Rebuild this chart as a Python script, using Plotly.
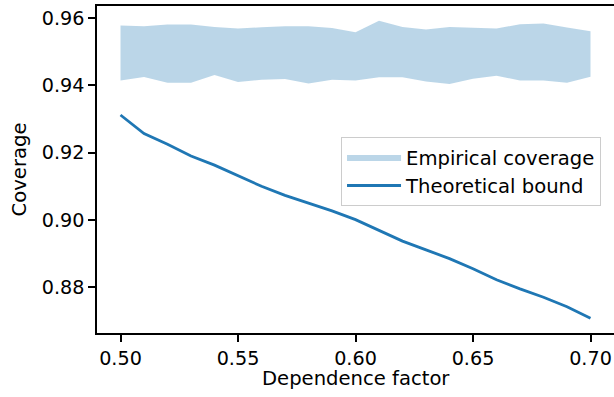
import plotly.graph_objects as go

dependence = [0.50, 0.51, 0.52, 0.53, 0.54, 0.55, 0.56, 0.57, 0.58, 0.59, 0.60,
              0.61, 0.62, 0.63, 0.64, 0.65, 0.66, 0.67, 0.68, 0.69, 0.70]
coverage_upper = [0.9578, 0.9576, 0.9581, 0.9581, 0.9574, 0.9569, 0.9573, 0.9576,
                  0.9576, 0.9571, 0.9558, 0.9592, 0.9574, 0.9566, 0.9574, 0.9571,
                  0.9569, 0.9582, 0.9584, 0.9572, 0.9561]
coverage_lower = [0.9415, 0.9425, 0.9408, 0.9408, 0.9431, 0.9410, 0.9417, 0.9419,
                  0.9406, 0.9417, 0.9415, 0.9424, 0.9424, 0.9412, 0.9404, 0.9420,
                  0.9429, 0.9415, 0.9415, 0.9408, 0.9426]
theoretical_bound = [0.9312, 0.9257, 0.9225, 0.9190, 0.9163, 0.9131, 0.9100, 0.9073,
                     0.9050, 0.9027, 0.9001, 0.8969, 0.8937, 0.8911, 0.8885, 0.8855,
                     0.8822, 0.8795, 0.8770, 0.8742, 0.8708]
x_ticks = [0.50, 0.55, 0.60, 0.65, 0.70]
y_ticks = [0.88, 0.90, 0.92, 0.94, 0.96]

FONT = "DejaVu Sans"
FS = 19.2

fig = go.Figure()
fig.add_trace(go.Scatter(x=dependence, y=coverage_lower, mode="lines",
                         line=dict(width=0, color="rgba(31,119,180,0)"),
                         showlegend=False, hoverinfo="skip"))
fig.add_trace(go.Scatter(x=dependence, y=coverage_upper, mode="lines",
                         line=dict(width=0, color="rgba(31,119,180,0)"),
                         fill="tonexty", fillcolor="rgba(31,119,180,0.3)",
                         name="Empirical coverage"))
fig.add_trace(go.Scatter(x=dependence, y=theoretical_bound, mode="lines",
                         line=dict(width=2.8, color="#1f77b4"),
                         name="Theoretical bound"))

span = max(coverage_upper) - min(theoretical_bound)
ymin = min(theoretical_bound) - 0.05 * span
ymax = max(coverage_upper) + 0.05 * span

fig.update_layout(
    width=614, height=397,
    margin=dict(l=97, r=0, t=6, b=64),
    plot_bgcolor="white", paper_bgcolor="white",
    font=dict(family=FONT, size=FS, color="black"),
    legend=dict(x=0.472, y=0.6, xanchor="left", yanchor="top",
                traceorder="normal",
                bgcolor="rgba(255,255,255,0.8)", bordercolor="#cccccc",
                borderwidth=1, font=dict(family=FONT, size=19.6),
                itemwidth=54),
    annotations=[dict(text="Dependence factor", xref="paper", yref="paper",
                      x=0.5, y=-0.097, xanchor="center", yanchor="top",
                      showarrow=False,
                      font=dict(family=FONT, size=19.6, color="black"))],
)
fig.update_xaxes(range=[0.49, 0.71], tickvals=x_ticks,
                 ticktext=[f"{v:.2f}" for v in x_ticks],
                 tickfont=dict(family=FONT, size=FS, color="black"),
                 showgrid=False, zeroline=False, showline=True, linecolor="black",
                 linewidth=1.5, mirror=True, ticks="outside", ticklen=7,
                 tickwidth=1.5, tickcolor="black")
fig.update_yaxes(range=[ymin, ymax], tickvals=y_ticks,
                 ticktext=[f"{v:.2f}" for v in y_ticks],
                 tickfont=dict(family=FONT, size=FS, color="black"),
                 showgrid=False, zeroline=False, showline=True, linecolor="black",
                 linewidth=1.5, mirror=False, ticks="outside", ticklen=7,
                 tickwidth=1.5, tickcolor="black",
                 title=dict(text="Coverage", standoff=10,
                            font=dict(family=FONT, size=19.6, color="black")))

fig.write_html("out.html")
